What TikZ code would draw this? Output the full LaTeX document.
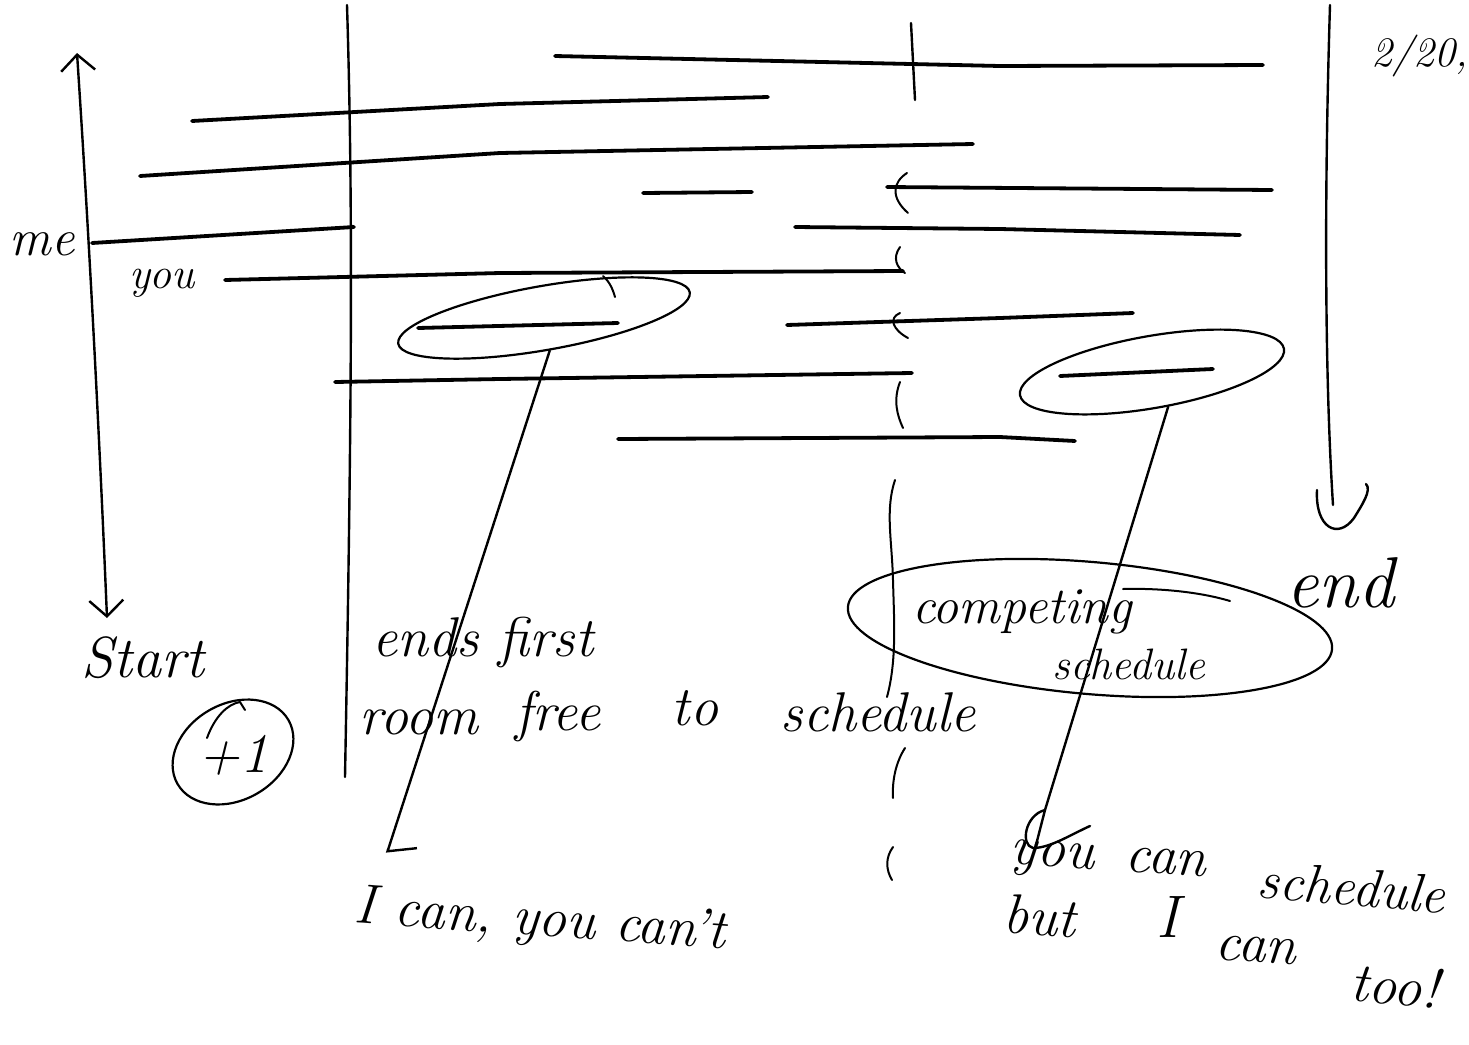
\documentclass[tikz,border=0pt]{standalone}
\usepackage{fontspec}
\usetikzlibrary{arrows.meta,shapes.geometric}
\newcommand\handfs[1]{\fontsize{#1}{#1}\selectfont\itshape}
\tikzset{
  ink/.style={line width=1.2pt, line cap=round, line join=round},
  bar/.style={line width=1.9pt, line cap=round, line join=round},
  fine/.style={line width=1pt, line cap=round, line join=round},
  loopy/.style={draw, ellipse, line width=1.1pt, inner sep=0pt},
  txt/.style={inner sep=0pt, font=\handfs{#1}},
}
\begin{document}
\begin{tikzpicture}[x=0.5pt, y=-0.5pt, >={Straight Barb[length=8pt,width=17pt]}]
\useasboundingbox (0,0) rectangle (1469,1045);

% axes / vertical strokes
\coordinate (axT) at (77,53);
\coordinate (axB) at (107,618);
\draw[ink,<->] (axT) .. controls (90,250) and (100,450) .. (axB);
\draw[ink] (347,5) .. controls (353,200) and (352,400) .. (345,777);
\draw[ink] (911,23) -- (915,100);
\coordinate (rT) at (1330,5);
\coordinate (rB) at (1333,505);
\draw[ink] (rT) .. controls (1324,200) and (1325,380) .. (rB);
\draw[ink] (1317,490) .. controls (1315,528) and (1338,540) .. (1354,518)
      .. controls (1362,505) and (1372,490) .. (1366,484);

% wavy line 3
\draw[fine] (907,173) .. controls (893,182) and (890,197) .. (908,213);
\draw[fine] (900,247) .. controls (892,258) and (897,268) .. (905,273);
\draw[fine] (900,313) .. controls (888,318) and (893,330) .. (908,338);
\draw[fine] (900,382) .. controls (893,400) and (897,415) .. (903,428);
\draw[fine] (895,480) .. controls (885,510) and (892,540) .. (893,580)
      .. controls (894,620) and (897,660) .. (887,697);
\draw[fine] (905,748) .. controls (896,762) and (892,780) .. (893,798);
\draw[fine] (893,847) .. controls (885,858) and (886,870) .. (892,880);

% intervals
\draw[bar] (555,56) -- (1000,66) -- (1263,65);
\draw[bar] (192,121) -- (500,104) -- (768,97);
\draw[bar] (140,176) -- (500,153) -- (973,144);
\draw[bar] (643,193) -- (752,192);
\draw[bar] (887,187) -- (1272,190);
\draw[bar] (795,227) -- (1000,229) -- (1240,235);
\draw[bar] (92,243) -- (354,227);
\draw[bar] (225,280) -- (500,273) -- (903,271);
\draw[bar] (418,328) -- (618,323);
\draw[bar] (787,325) -- (1000,318) -- (1133,313);
\draw[bar] (335,382) -- (500,379) -- (912,373);
\draw[bar] (618,439) -- (1000,437) -- (1075,441);
\draw[bar] (1060,376) -- (1213,369);

% ovals
\node[loopy, rotate=10, minimum width=148pt, minimum height=32pt] (ovA) at (544,318) {};
\draw[fine] (603,276) .. controls (610,282) and (613,290) .. (615,297);
\node[loopy, rotate=10, minimum width=134pt, minimum height=36pt] (ovB) at (1152,372) {};
\node[loopy, rotate=-5, minimum width=243pt, minimum height=66pt] (ovC) at (1090,628) {};
\draw[fine] (1123,589) .. controls (1160,588) and (1200,592) .. (1230,601);

% labels
\node[txt=26] (me) at (42,244) {me};
\node[txt=22] (you) at (162,283) {you};
\node[txt=29] (start) at (143,658) {Start};
\node[txt=28] (plusone) at (233,755) {+1};
\node[loopy, rotate=30, minimum width=64pt, minimum height=48pt] (ring) at (233,752) {};
\draw[fine] (207,738) .. controls (215,716) and (228,704) .. (240,702) -- (245,710);
\node[txt=28] (ends) at (483,642) {ends first};
\node[txt=28] (room) at (419,722) {room};
\node[txt=28] (free) at (558,716) {free};
\node[txt=28] (to) at (695,708) {to};
\node[txt=28] (sched) at (878,712) {schedule};
\node[txt=26] (comp) at (1022,612) {competing};
\node[txt=22] (compsched) at (1129,664) {schedule};
\node[txt=36] (endlbl) at (1340,583) {end};
\node[txt=21] (date) at (1420,56) {2/20,};
\node[txt=28, rotate=-4] (ican) at (540,922) {I can, you can't};
% "you can schedule / but I can too!"
\node[txt=28, rotate=-4] (w1) at (1052,860) {you};
\node[txt=28, rotate=-4] (w2) at (1166,862) {can};
\node[txt=27, rotate=-5] (w3) at (1352,887) {schedule};
\node[txt=28, rotate=-4] (w4) at (1040,916) {but};
\node[txt=30] (w5) at (1168,917) {I};
\node[txt=28, rotate=-4] (w6) at (1256,950) {can};
\node[txt=28, rotate=-5] (w7) at (1395,985) {too!};

% connectors
\coordinate (tipA) at (387,853);
\draw[ink, -{Straight Barb[harpoon, length=6pt, width=27pt]}] (ovA.south) -- (tipA);
\coordinate (tipB) at (1045,810);
\draw[ink] (ovB.-75) -- (tipB) -- (1036,845);
\draw[ink] (tipB) .. controls (1025,815) and (1020,845) .. (1033,848)
      .. controls (1050,848) and (1070,835) .. (1090,826);
\end{tikzpicture}
\end{document}
